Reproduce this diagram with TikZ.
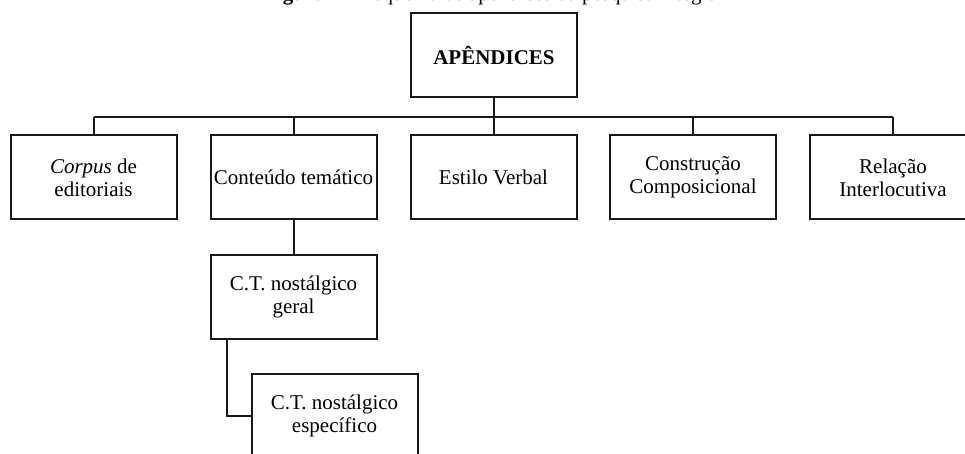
\documentclass[tikz,border=0pt]{standalone}
\usepackage{fontspec}
\setmainfont{Liberation Serif}
\begin{document}
\begin{tikzpicture}[x=1pt,y=-1pt,
  box/.style={draw=black!90,line width=2pt,minimum width=166pt,minimum height=84pt,
    inner sep=0pt,align=center,font=\fontsize{21}{23}\selectfont},
  conn/.style={draw=black!90,line width=2pt}]
\useasboundingbox (0,0) rectangle (965,454);
\clip (0,0) rectangle (965,454);
\node[anchor=base,font=\fontsize{21}{23}\selectfont] (cap) at (494,0.5)
  {\textbf{Figura 1} -- Esquema de apêndices da pesquisa integral};
\node[box,font=\fontsize{21}{23}\selectfont\bfseries] (ap) at (494,55.5) {APÊNDICES};
\node[box] (r1) at (93.5,177.5) {\textit{Corpus} de\\editoriais};
\node[box] (r2) at (293.5,177.5) {Conteúdo temático};
\node[box] (r3) at (493.5,177.5) {Estilo Verbal};
\node[box] (r4) at (693,177.5) {Construção\\Composicional};
\node[box] (r5) at (893,177.5) {Relação\\Interlocutiva};
\node[box] (g) at (293.5,296.5) {C.T. nostálgico\\geral};
\node[box] (e) at (334.5,416) {C.T. nostálgico\\específico};
\coordinate (bus) at (494,117.5);
\draw[conn] (ap.south) -- (ap.south |- bus);
\draw[conn] (r1.north |- bus) -- (r5.north |- bus);
\foreach \n in {r1,r2,r3,r4,r5} \draw[conn] (\n.north) -- (\n.north |- bus);
\draw[conn] (r2.south) -- (g.north);
\draw[conn] ([xshift=17pt]g.south west) |- (e.west);
\end{tikzpicture}
\end{document}
